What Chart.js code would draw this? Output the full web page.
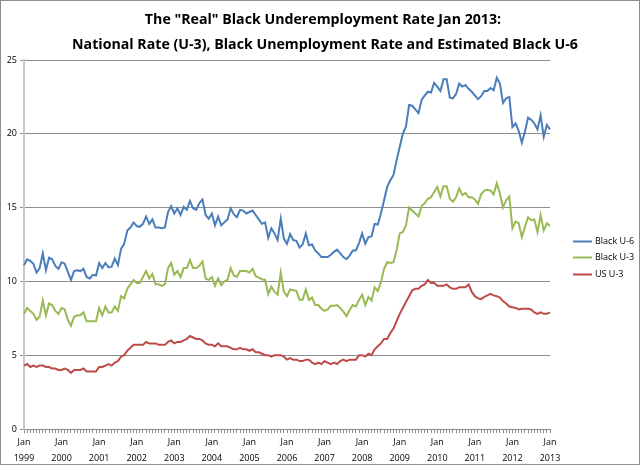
<!DOCTYPE html>
<html>
<head>
<meta charset="utf-8">
<script src="https://cdn.jsdelivr.net/npm/chart.js@4"></script>
<style>
  html, body { margin: 0; padding: 0; background: #fff; }
  #wrap { width: 640px; height: 465px; }
</style>
</head>
<body>
<div id="wrap"><canvas id="rateChart"></canvas></div>
<script>
const years = [1999, 2000, 2001, 2002, 2003, 2004, 2005, 2006, 2007, 2008, 2009, 2010, 2011, 2012, 2013];

const monthNames = ["Jan", "Feb", "Mar", "Apr", "May", "Jun", "Jul", "Aug", "Sep", "Oct", "Nov", "Dec"];

const blackU6 = [
  11.1, 11.5, 11.4, 11.2, 10.6, 10.9, 11.9, 10.75, 11.6, 11.5, 11.05, 10.85,
  11.3, 11.2, 10.65, 10.1, 10.7, 10.75, 10.7, 10.85, 10.3, 10.2, 10.45, 10.4,
  11.25, 10.9, 11.25, 10.95, 11.0, 11.55, 11.1, 12.2, 12.55, 13.45, 13.65, 14.0,
  13.75, 13.7, 13.9, 14.4, 13.9, 14.2, 13.65, 13.65, 13.6, 13.65, 14.7, 15.1,
  14.6, 14.95, 14.5, 15.05, 14.85, 15.45, 14.95, 14.85, 15.3, 15.55, 14.5, 14.25,
  14.6, 13.8, 14.4, 13.8, 14.0, 14.2, 14.95, 14.55, 14.35, 14.85, 14.8, 14.6,
  14.7, 14.8, 14.5, 14.2, 13.9, 14.0, 12.95, 13.6, 13.25, 12.8, 14.25, 12.9,
  12.55, 13.2, 12.8, 12.75, 12.3, 12.5, 13.25, 12.45, 12.5, 12.1, 11.9, 11.65,
  11.65, 11.65, 11.8, 12.0, 12.15, 11.9, 11.65, 11.5, 11.75, 12.1, 12.1, 12.6,
  13.25, 12.55, 13.0, 13.05, 13.9, 13.85, 14.6, 15.5, 16.4, 16.85, 17.2, 18.2,
  19.1, 20.0, 20.5, 21.95, 21.9, 21.65, 21.4, 22.3, 22.6, 22.85, 22.8, 23.45,
  23.2, 22.9, 23.7, 23.7, 22.45, 22.4, 22.7, 23.4, 23.2, 23.3, 23.05, 22.85,
  22.6, 22.35, 22.55, 22.9, 22.9, 23.1, 22.95, 23.8, 23.4, 22.1, 22.4, 22.5,
  20.45, 20.7, 20.2, 19.4, 20.15, 21.1, 20.95, 20.7, 20.3, 21.25, 19.8, 20.6,
  20.3
];

const blackU3 = [
  7.8, 8.2, 8.0, 7.8, 7.4, 7.6, 8.7, 7.7, 8.5, 8.4, 8.0, 7.8,
  8.2, 8.1, 7.4, 7.0, 7.6, 7.7, 7.7, 7.9, 7.3, 7.3, 7.3, 7.3,
  8.2, 7.7, 8.3, 7.9, 7.9, 8.3, 8.0, 9.0, 8.85, 9.5, 9.8, 10.1,
  9.9, 9.9, 10.3, 10.7, 10.2, 10.5, 9.8, 9.8, 9.7, 9.8, 10.9, 11.25,
  10.45, 10.7, 10.3, 10.9, 10.9, 11.45, 10.9, 10.9, 11.05, 11.35, 10.2, 10.1,
  10.3, 9.7, 10.2, 9.75, 10.0, 10.1, 10.9, 10.4, 10.3, 10.7, 10.7, 10.7,
  10.6, 10.85, 10.35, 10.25, 10.15, 10.1, 9.15, 9.65, 9.3, 9.1, 10.6, 9.3,
  9.0, 9.45, 9.4, 9.35, 8.75, 8.75, 9.45, 8.75, 8.9, 8.4, 8.4, 8.15,
  8.0, 8.1, 8.35, 8.35, 8.4, 8.2, 7.95, 7.65, 8.05, 8.4, 8.3, 8.75,
  9.1, 8.4, 8.95, 8.7, 9.6, 9.35, 9.95, 10.85, 11.3, 11.25, 11.3, 12.1,
  13.25, 13.35, 13.8, 15.0, 14.8, 14.6, 14.4, 15.1, 15.3, 15.6, 15.7, 16.05,
  16.4, 15.75, 16.45, 16.45, 15.6, 15.4, 15.7, 16.3, 15.85, 16.0, 15.7, 15.7,
  15.55, 15.25, 15.9, 16.15, 16.2, 16.15, 15.9, 16.65, 15.95, 15.0, 15.5, 15.75,
  13.6, 14.05, 13.95, 13.0, 13.7, 14.35, 14.15, 14.2, 13.35, 14.5, 13.45, 13.95,
  13.75
];

const usU3 = [
  4.3, 4.4, 4.2, 4.3, 4.2, 4.3, 4.3, 4.2, 4.2, 4.1, 4.1, 4.0,
  4.0, 4.1, 4.0, 3.8, 4.0, 4.0, 4.0, 4.1, 3.9, 3.9, 3.9, 3.9,
  4.2, 4.2, 4.3, 4.4, 4.3, 4.5, 4.6, 4.9, 5.0, 5.3, 5.5, 5.7,
  5.7, 5.7, 5.7, 5.9, 5.8, 5.8, 5.8, 5.7, 5.7, 5.7, 5.9, 6.0,
  5.8, 5.9, 5.9, 6.0, 6.1, 6.3, 6.2, 6.1, 6.1, 6.0, 5.8, 5.7,
  5.7, 5.6, 5.8, 5.6, 5.6, 5.6, 5.5, 5.4, 5.4, 5.5, 5.4, 5.4,
  5.3, 5.4, 5.2, 5.2, 5.1, 5.0, 5.0, 4.9, 5.0, 5.0, 5.0, 4.9,
  4.7, 4.8, 4.7, 4.7, 4.6, 4.6, 4.7, 4.7, 4.5, 4.4, 4.5, 4.4,
  4.6, 4.5, 4.4, 4.5, 4.4, 4.6, 4.7, 4.6, 4.7, 4.7, 4.7, 5.0,
  5.0, 4.9, 5.1, 5.0, 5.4, 5.6, 5.8, 6.1, 6.1, 6.5, 6.8, 7.3,
  7.8, 8.2, 8.6, 9.0, 9.4, 9.5, 9.5, 9.7, 9.8, 10.1, 9.9, 9.9,
  9.7, 9.7, 9.7, 9.8, 9.6, 9.5, 9.5, 9.6, 9.6, 9.6, 9.8, 9.3,
  9.0, 8.85, 8.8, 8.95, 9.05, 9.15, 9.05, 9.0, 8.9, 8.65, 8.5, 8.3,
  8.25, 8.2, 8.1, 8.15, 8.15, 8.15, 8.1, 7.9, 7.8, 7.9, 7.8, 7.8,
  7.9
];

const yTicks = [0, 5, 10, 15, 20, 25];

const titleLines = [
  'The "Real" Black Underemployment Rate Jan 2013:',
  "National Rate (U-3), Black Unemployment Rate and Estimated Black U-6"
];

// one label per month, Jan 1999 .. Jan 2013
let monthLabels = [];
years.forEach((year) => {
  monthNames.forEach((m) => {
    if (year < 2013 || m === "Jan") monthLabels.push(m + " " + year);
  });
});

const seriesColors = ["#4a7ebb", "#98b954", "#be4b48"];

// title, legend and frame drawn by hand so they sit where Excel put them
const excelDecor = {
  id: "excelDecor",
  beforeDraw(chart) {
    const ctx = chart.ctx;
    ctx.save();
    ctx.fillStyle = "#fff";
    ctx.fillRect(0, 0, chart.width, chart.height);
    ctx.restore();
  },
  afterDraw(chart) {
    const ctx = chart.ctx;
    const area = chart.chartArea;
    const mid = (area.top + area.bottom) / 2;
    ctx.save();

    ctx.fillStyle = "#000";
    ctx.textAlign = "center";
    ctx.textBaseline = "middle";
    ctx.font = "bold 14.2px 'Open Sans'";
    ctx.fillText(titleLines[0], 323, 20);
    ctx.fillText(titleLines[1], 325, 45);

    ctx.textAlign = "left";
    ctx.font = "9px 'Open Sans'";
    chart.data.datasets.forEach((ds, i) => {
      const y = Math.round(mid - 4 + i * 16.5) + 0.5;
      ctx.strokeStyle = ds.borderColor;
      ctx.lineWidth = 2;
      ctx.beginPath();
      ctx.moveTo(area.right + 23, y);
      ctx.lineTo(area.right + 42, y);
      ctx.stroke();
      ctx.fillText(ds.label, area.right + 45, y);
    });

    ctx.strokeStyle = "#8c8c8c";
    ctx.lineWidth = 1;
    ctx.strokeRect(0.5, 0.5, chart.width - 1, chart.height - 1);
    ctx.restore();
  },
};

const rateChart = new Chart(document.getElementById("rateChart"), {
  type: "line",
  data: {
    labels: monthLabels,
    datasets: [
      { label: "Black U-6", data: blackU6, borderColor: seriesColors[0] },
      { label: "Black U-3", data: blackU3, borderColor: seriesColors[1] },
      { label: "US U-3", data: usU3, borderColor: seriesColors[2] },
    ],
  },
  options: {
    responsive: true,
    maintainAspectRatio: false,
    animation: false,
    layout: { padding: { left: 0, right: 90, top: 60, bottom: 0 } },
    elements: {
      line: { borderWidth: 2, tension: 0 },
      point: { radius: 0 },
    },
    plugins: {
      legend: { display: false },
      tooltip: { enabled: false },
      title: { display: false },
    },
    scales: {
      x: {
        type: "category",
        offset: false,
        border: { color: "#8c8c8c" },
        grid: {
          drawOnChartArea: false,
          drawTicks: true,
          tickLength: 4,
          color: "#8c8c8c",
        },
        ticks: {
          autoSkip: false,
          maxRotation: 0,
          minRotation: 0,
          padding: 2,
          color: "#000",
          font: { family: "'Open Sans'", size: 9, lineHeight: 1.75 },
          callback: function (value, index) {
            const lbl = monthLabels[index];
            if (lbl.startsWith("Jan")) return lbl.split(" ");
            return "";
          },
        },
        afterFit: (scale) => {
          scale.height = 36;
        },
      },
      y: {
        min: yTicks[0],
        max: yTicks[yTicks.length - 1],
        border: { color: "#c8c8c8", width: 2 },
        grid: { color: "#8c8c8c", tickLength: 4 },
        ticks: {
          stepSize: 5,
          padding: 3,
          color: "#000",
          font: { family: "'Open Sans'", size: 9 },
        },
        afterFit: (scale) => {
          scale.width = 24;
        },
      },
    },
  },
  plugins: [excelDecor],
});
</script>
</body>
</html>
